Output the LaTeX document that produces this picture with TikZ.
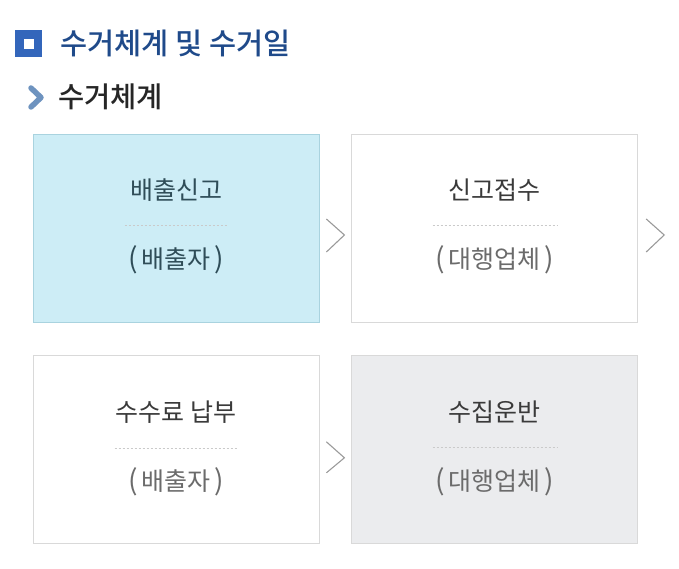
\documentclass[tikz,border=0pt]{standalone}
\usepackage{fontspec}
\setmainfont{Noto Sans CJK KR}
\newfontfamily\krmed{Noto Sans CJK KR Medium}
\usetikzlibrary{positioning,calc}

\definecolor{titleblue}{HTML}{1F4A8A}
\definecolor{iconblue}{HTML}{3366BB}
\definecolor{subchevblue}{HTML}{6E93BF}
\definecolor{skyfill}{HTML}{CDEDF6}
\definecolor{skyline}{HTML}{A9D3DF}
\definecolor{grayfill}{HTML}{EBECEE}
\definecolor{boxline}{HTML}{D9D9D9}
\definecolor{sepgray}{HTML}{CACACA}
\definecolor{chevgray}{HTML}{9A9A9A}
\definecolor{tealtext}{HTML}{2F4D58}
\definecolor{darktext}{HTML}{3A3A3A}
\definecolor{softtext}{HTML}{6B6B6B}

\newcommand{\inparen}[1]{{\fontsize{28}{30}\selectfont(}\kern3.5pt #1\kern3.5pt{\fontsize{28}{30}\selectfont)}}

\begin{document}
\begin{tikzpicture}[x=1pt, y=-1pt, node distance=32pt]
    \tikzstyle{stepbox} = [draw=boxline, line width=0.8pt, minimum width=286pt, minimum height=188pt, inner sep=0pt]
    \tikzstyle{toplabel} = [font=\fontsize{25}{30}\selectfont, text=darktext, inner sep=0pt]
    \tikzstyle{botlabel} = [font=\fontsize{25}{30}\selectfont, text=softtext, inner sep=0pt]
    \tikzstyle{sepline} = [draw=sepgray, line width=0.6pt, dash pattern=on 2.5pt off 1.5pt]
    \tikzstyle{chev} = [draw=chevgray, line width=1.1pt]

    \useasboundingbox (0,0) rectangle (679,569);

    % heading
    \node[fill=iconblue, minimum size=27pt, inner sep=0pt] (icon) at (28.5,44) {};
    \node[fill=white, minimum size=10pt, inner sep=0pt] (iconin) at (icon) {};
    \node[anchor=west, inner sep=0pt, text=titleblue, font=\fontsize{29.5}{34}\krmed] (title) at (60,43) {수거체계 및 수거일};

    \draw[subchevblue, line width=5.5pt, line cap=round, line join=round] (31,88) -- (41,97.5) -- (31,107);
    \node[anchor=west, inner sep=0pt, text=black!85, font=\fontsize{28.5}{32}\krmed] (subtitle) at (58,97) {수거체계};

    % boxes
    \node[stepbox, fill=skyfill, draw=skyline] (S1) at (176,228) {};
    \node[stepbox, fill=white, right=32pt of S1] (S2) {};
    \node[stepbox, fill=white, below=33pt of S1] (S3) {};
    \node[stepbox, fill=grayfill, right=32pt of S3] (S4) {};

    % box texts
    \node[toplabel, text=tealtext] (S1top) at ($(S1.center)+(0,-38)$) {배출신고};
    \node[botlabel, text=tealtext] (S1bot) at ($(S1.center)+(0,32)$) {\inparen{배출자}};
    \node[toplabel] (S2top) at ($(S2.center)+(0,-38)$) {신고접수};
    \node[botlabel] (S2bot) at ($(S2.center)+(0,32)$) {\inparen{대행업체}};
    \node[toplabel] (S3top) at ($(S3.center)+(0,-38)$) {수수료 납부};
    \node[botlabel] (S3bot) at ($(S3.center)+(0,32)$) {\inparen{배출자}};
    \node[toplabel] (S4top) at ($(S4.center)+(0,-38)$) {수집운반};
    \node[botlabel] (S4bot) at ($(S4.center)+(0,32)$) {\inparen{대행업체}};

    % dashed separators, as wide as the wider label
    \draw[sepline] ($(S1top.west |- S1.center)+(-5,-3)$) -- ($(S1top.east |- S1.center)+(5,-3)$);
    \draw[sepline] ($(S2bot.west |- S2.center)+(-3,-3)$) -- ($(S2bot.east |- S2.center)+(3,-3)$);
    \draw[sepline] ($(S3top.west |- S3.center)+(-1,-2)$) -- ($(S3top.east |- S3.center)+(1,-2)$);
    \draw[sepline] ($(S4bot.west |- S4.center)+(-3,-3)$) -- ($(S4bot.east |- S4.center)+(3,-3)$);

    % chevrons
    \draw[chev] ($(S1.east)+(7,-9)$) -- ($(S1.east)+(25,7)$) -- ($(S1.east)+(7,24)$);
    \draw[chev] ($(S2.east)+(8,-9)$) -- ($(S2.east)+(26,7)$) -- ($(S2.east)+(8,24)$);
    \draw[chev] ($(S3.east)+(7,-8)$) -- ($(S3.east)+(25,8)$) -- ($(S3.east)+(7,23)$);
\end{tikzpicture}
\end{document}
